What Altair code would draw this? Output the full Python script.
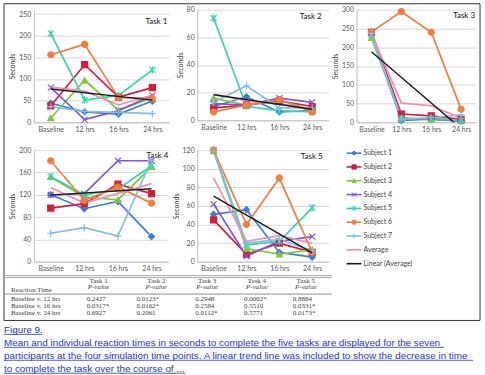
import json
import altair as alt
import pandas as pd

# ---------------- data ----------------
TIMES = ["Baseline", "12 hrs", "16 hrs", "24 hrs"]
SERIES = ["Subject 1", "Subject 2", "Subject 3", "Subject 4", "Subject 5",
          "Subject 6", "Subject 7", "Average"]
SUBJECTS = SERIES[:7]
LEGEND_ITEMS = SERIES + ["Linear (Average)"]

# rows follow SERIES order: Subject 1..7, Average
TASK1 = [[44, 24, 19, 49], [38, 133, 58, 80], [10, 97, 28, 57], [80, 6, 27, 62],
         [205, 51, 62, 121], [156, 180, 57, 55], [36, 25, 23, 20], [81, 72, 40, 63]]
TASK2 = [[10, 17, 6, 7], [9, 11, 14, 10], [16, 11, 15, 7], [12, 11, 16, 13],
         [74, 10, 7, 6], [6, 11, 15, 6], [13, 25, 9, 9], [19, 14, 12, 8]]
TASK3 = [[235, 5, 8, 3], [240, 22, 17, 8], [225, 12, 7, 5], [238, 7, 10, 3],
         [232, 10, 10, 5], [241, 295, 240, 35], [236, 8, 12, 20], [236, 51, 44, 11]]
TASK4 = [[120, 95, 108, 45], [96, 104, 139, 122], [152, 116, 111, 170], [120, 122, 181, 181],
         [153, 120, 130, 172], [181, 110, 134, 105], [51, 61, 46, 182], [133, 105, 122, 140]]
TASK5 = [[51, 56, 10, 5], [45, 8, 20, 10], [119, 14, 8, 13], [62, 6, 22, 27],
         [120, 18, 22, 58], [120, 40, 90, 10], [119, 20, 24, 12], [90, 22, 28, 20]]

TABLE_HEAD = ["Task 1", "Task 2", "Task 3", "Task 4", "Task 5"]
ROW_LABELS = ["Baseline v. 12 hrs", "Baseline v. 16 hrs", "Baseline v. 24 hrs"]
P_TASK1 = ["0.2427", "0.0317*", "0.6927"]
P_TASK2 = ["0.0123*", "0.0162*", "0.2061"]
P_TASK3 = ["0.2948", "0.2584", "0.0112*"]
P_TASK4 = ["0.0002*", "0.5510", "0.5771"]
P_TASK5 = ["0.8884", "0.0331*", "0.0173*"]

CAPTION = ["Figure 9.",
           "Mean and individual reaction times in seconds to complete the five tasks are displayed for the seven",
           "participants at the four simulation time points. A linear trend line was included to show the decrease in time",
           "to complete the task over the course of ..."]

# ---------------- styles ----------------
COLORS = ["#3A7FD5", "#D81B3C", "#7EC83A", "#7F57D6", "#36D3B2", "#F47D3E",
          "#86BDE8", "#EE8DB5", "#1A1A1A"]
SHAPES = ["diamond", "square", "triangle-up", "M-1,-1L1,1M-1,1L1,-1",
          "M-1,-1L1,1M-1,1L1,-1M0,-1.3L0,1.3", "circle", "M-1.2,0L1.2,0M0,-1.2L0,1.2"]
FONT = "Lato"
AX_GRAY = "#595959"
BLUE = "#2336C8"

COLOR_SCALE = alt.Scale(domain=LEGEND_ITEMS, range=COLORS)
SHAPE_SCALE = alt.Scale(domain=SUBJECTS, range=SHAPES)
LABEL_EXPR = json.dumps(TIMES) + "[datum.value]"


def long_df(values):
    rows = []
    for name, vals in zip(SERIES, values):
        for i, v in enumerate(vals):
            rows.append({"series": name, "t": i, "value": v})
    return pd.DataFrame(rows)


def panel(tag, values, ymax, ystep, ydom, w, h, tag_dx, tag_y):
    df = long_df(values)
    x = alt.X("t:Q", scale=alt.Scale(domain=[-0.5, 3.5], nice=False, zero=False),
              axis=alt.Axis(values=[0, 1, 2, 3], labelExpr=LABEL_EXPR, title=None, grid=False,
                            ticks=False, domainColor="#BFBFBF", labelFont=FONT, labelFontSize=7,
                            labelColor=AX_GRAY, labelPadding=3, labelFlush=False))
    y = alt.Y("value:Q", scale=alt.Scale(domain=[0, ydom], nice=False, zero=True),
              axis=alt.Axis(values=list(range(0, ymax + 1, ystep)), title="Seconds",
                            titleFont=FONT, titleFontSize=7, titleFontWeight="normal",
                            titleColor="#404040", titlePadding=3, grid=True, gridColor="#D9D9D9",
                            ticks=False, domainColor="#BFBFBF", labelFont=FONT, labelFontSize=7,
                            labelColor=AX_GRAY, labelPadding=3))
    color = alt.Color("series:N", scale=COLOR_SCALE, legend=None)
    lines = alt.Chart(df).mark_line(strokeWidth=1.7).encode(x=x, y=y, color=color)
    pts = alt.Chart(df[df["series"] != "Average"]).mark_point(
        filled=True, size=36, strokeWidth=1.2, opacity=1).encode(
        x=x, y=y, color=color,
        stroke=alt.Stroke("series:N", scale=COLOR_SCALE, legend=None),
        shape=alt.Shape("series:N", scale=SHAPE_SCALE, legend=None))
    trend = alt.Chart(df[df["series"] == "Average"]).transform_regression(
        "t", "value", extent=[0, 3]).mark_line(
        color="#1A1A1A", strokeWidth=1.4, clip=True).encode(x=x, y=y)
    label = alt.Chart(pd.DataFrame({"tag": [tag]})).mark_text(
        align="right", baseline="middle", font=FONT, fontSize=8, color="#111111").encode(
        x=alt.value(w + tag_dx), y=alt.value(tag_y), text="tag:N")
    return alt.layer(lines, pts, trend, label).properties(width=w, height=h)


def filler(h=1):
    return alt.Chart(pd.DataFrame({"a": [0]})).mark_point(opacity=0).encode(
        x=alt.value(0), y=alt.value(0)).properties(width=1, height=h)


p1 = panel("Task 1", TASK1, 250, 50, 260, 136, 113, -2, 12)
p2 = panel("Task 2", TASK2, 80, 20, 80, 132, 111, -7, 7)
p3 = panel("Task 3", TASK3, 300, 50, 300, 120, 113, -1, 6)
p4 = panel("Task 4", TASK4, 200, 40, 200, 135, 112, 0, 6)
p5 = panel("Task 5", TASK5, 120, 20, 120, 132, 112, -6, 7)

# ---------------- legend ----------------
leg_df = pd.DataFrame({"series": LEGEND_ITEMS})
ly = alt.Y("series:N", sort=LEGEND_ITEMS,
           scale=alt.Scale(type="point", range=[3, 114], padding=0), axis=None)
lcolor = alt.Color("series:N", scale=COLOR_SCALE, legend=None)
leg_rule = alt.Chart(leg_df).mark_rule(strokeWidth=1.6).encode(
    x=alt.value(-10), x2=alt.value(5), y=ly, color=lcolor)
leg_pts = alt.Chart(leg_df[leg_df["series"].isin(SUBJECTS)]).mark_point(
    filled=True, size=18, strokeWidth=1, opacity=1).encode(
    x=alt.value(-2.5), y=ly, color=lcolor,
    stroke=alt.Stroke("series:N", scale=COLOR_SCALE, legend=None),
    shape=alt.Shape("series:N", scale=SHAPE_SCALE, legend=None))
leg_txt = alt.Chart(leg_df).mark_text(
    align="left", baseline="middle", font=FONT, fontSize=7, color="#404040").encode(
    x=alt.value(7), y=ly, text="series:N")
legend = alt.layer(leg_rule, leg_pts, leg_txt).properties(width=110, height=112)

# ---------------- table ----------------
one = pd.DataFrame({"a": [0]})
TXT = dict(font="Liberation Serif", fontSize=7, color="#404040", baseline="middle")
box = alt.Chart(one).mark_rect(fill="white", fillOpacity=0, stroke="#333333", strokeWidth=1).encode(
    x=alt.value(-30), x2=alt.value(448), y=alt.value(-262), y2=alt.value(56))
t_rules = [
    alt.Chart(one).mark_rule(color="#A6A6A6", strokeWidth=1).encode(
        x=alt.value(-30), x2=alt.value(299), y=alt.value(yy))
    for yy in (11, 13)
]
t_under = alt.Chart(one).mark_rule(color="#8C8C8C", strokeWidth=1).encode(
    x=alt.value(-30), x2=alt.value(299), y=alt.value(29.5))
ty = alt.Y("row:N", sort=ROW_LABELS,
           scale=alt.Scale(type="point", range=[34, 49], padding=0), axis=None)
rt = alt.Chart(pd.DataFrame({"h": ["Reaction Time"]})).mark_text(align="left", **TXT).encode(
    x=alt.value(-23), y=alt.value(25), text="h:N")
row_lab = alt.Chart(pd.DataFrame({"row": ROW_LABELS})).mark_text(align="left", **TXT).encode(
    x=alt.value(-23), y=ty, text="row:N")
t_layers = [box] + t_rules + [t_under, rt, row_lab]
HEAD_X = [65, 123, 174, 224, 273]
VAL_X = [53, 103, 162, 211, 260]
for head, vals, hx, vx in zip(TABLE_HEAD, [P_TASK1, P_TASK2, P_TASK3, P_TASK4, P_TASK5], HEAD_X, VAL_X):
    hd = pd.DataFrame({"h": [head]})
    t_layers.append(alt.Chart(hd).mark_text(align="center", **TXT).encode(
        x=alt.value(hx), y=alt.value(16), text="h:N"))
    t_layers.append(alt.Chart(pd.DataFrame({"h": ["P-value"]})).mark_text(
        align="center", fontStyle="italic", **TXT).encode(
        x=alt.value(hx), y=alt.value(22.5), text="h:N"))
    t_layers.append(alt.Chart(pd.DataFrame({"row": ROW_LABELS, "p": vals})).mark_text(
        align="left", **TXT).encode(x=alt.value(vx), y=ty, text="p:N"))
table = alt.layer(*t_layers).properties(width=130, height=56)

# ---------------- caption ----------------
cap_df = pd.DataFrame({"line": CAPTION, "i": list(range(len(CAPTION)))})
cy = alt.Y("i:O", scale=alt.Scale(type="point", range=[7, 46], padding=0), axis=None)
cap_txt = alt.Chart(cap_df).mark_text(
    align="left", baseline="middle", font="Liberation Sans", fontSize=9.9, color=BLUE).encode(
    x=alt.value(-30), y=cy, text="line:N")
UNDER_W = [38, 442, 471, 182]
UNDER_Y = [11, 24, 37, 50]
cap_lines = [
    alt.Chart(one).mark_rule(color=BLUE, strokeWidth=0.8).encode(
        x=alt.value(-30), x2=alt.value(-30 + uw), y=alt.value(uy))
    for uw, uy in zip(UNDER_W, UNDER_Y)
]
caption = alt.layer(cap_txt, *cap_lines).properties(width=130, height=50)

chart = alt.concat(
    p1, p2, p3,
    filler(22), filler(), filler(),
    p4, p5, legend,
    table, filler(), filler(),
    caption,
    columns=3, spacing={"row": 3, "column": 28}, bounds="flush",
).properties(
    padding={"left": 3, "top": 2, "right": 4, "bottom": 1}, background="white"
).configure_view(strokeWidth=0)

chart.save("out.html", embed_options={"renderer": "svg", "actions": False})
